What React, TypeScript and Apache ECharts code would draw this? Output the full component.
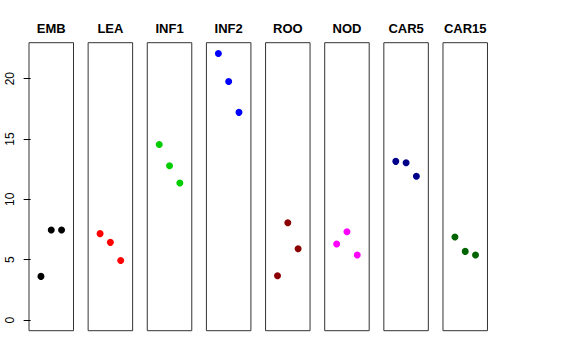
import React, { useEffect, useRef } from "react";
import * as echarts from "echarts";

const panelNames = ["EMB", "LEA", "INF1", "INF2", "ROO", "NOD", "CAR5", "CAR15"];
const panelColors = ["#000000", "#FF0000", "#00CD00", "#0000FF", "#8B0000", "#FF00FF", "#00008B", "#006400"];
const xPositions = [1, 2, 3];
const embValues = [3.62, 7.46, 7.46];
const leaValues = [7.16, 6.44, 4.94];
const inf1Values = [14.54, 12.78, 11.36];
const inf2Values = [22.08, 19.76, 17.21];
const rooValues = [3.67, 8.07, 5.91];
const nodValues = [6.3, 7.32, 5.39];
const car5Values = [13.15, 13.04, 11.91];
const car15Values = [6.88, 5.69, 5.39];
const panelValues = [embValues, leaValues, inf1Values, inf2Values, rooValues, nodValues, car5Values, car15Values];
const yTicks = [0, 5, 10, 15, 20];

export default function App() {
  const ref = useRef<HTMLDivElement>(null);
  useEffect(() => {
    if (!ref.current) return;
    const chart = echarts.init(ref.current, undefined, { renderer: "svg" });
    const step = 59.14;
    const left0 = 29;
    const w = 44.5;
    const top = 42.7;
    const h = 288;
    const grids = panelNames.map((_, i) => ({
      left: left0 + step * i,
      top,
      width: w,
      height: h,
      show: true,
      borderColor: "#333",
      borderWidth: 1,
      backgroundColor: "transparent",
    }));
    const xAxes = panelNames.map((_, i) => ({
      gridIndex: i,
      type: "value",
      min: -0.16,
      max: 4.16,
      show: false,
    }));
    const yAxes = panelNames.map((_, i) => ({
      gridIndex: i,
      type: "value",
      min: -0.88,
      max: 22.98,
      show: i === 0,
      axisLine: { show: false },
      splitLine: { show: false },
      axisTick: {
        show: i === 0,
        length: 7,
        customValues: yTicks,
        lineStyle: { color: "#000", width: 1 },
      },
      axisLabel: {
        show: i === 0,
        customValues: yTicks,
        rotate: 90,
        margin: 13,
        fontSize: 12,
        color: "#000",
        fontFamily: "Liberation Sans, Arial, sans-serif",
      },
    }));
    const titles = panelNames.map((name, i) => ({
      text: name,
      left: left0 + step * i + w / 2,
      top: 22,
      textAlign: "center",
      padding: 0,
      textStyle: {
        fontSize: 13,
        fontWeight: "bold",
        color: "#000",
        fontFamily: "Liberation Sans, Arial, sans-serif",
      },
    }));
    const series = panelNames.map((name, i) => ({
      name,
      type: "scatter",
      xAxisIndex: i,
      yAxisIndex: i,
      symbol: "circle",
      symbolSize: 7,
      itemStyle: { color: panelColors[i], opacity: 1 },
      data: xPositions.map((x, k) => [x, panelValues[i][k]]),
    }));
    chart.setOption({
      animation: false,
      backgroundColor: "#fff",
      title: titles,
      grid: grids,
      xAxis: xAxes,
      yAxis: yAxes,
      series,
    });
    return () => chart.dispose();
  }, []);
  return (
    <div
      ref={ref}
      style={{ position: "fixed", left: 0, top: 0, width: 576, height: 360 }}
    />
  );
}
